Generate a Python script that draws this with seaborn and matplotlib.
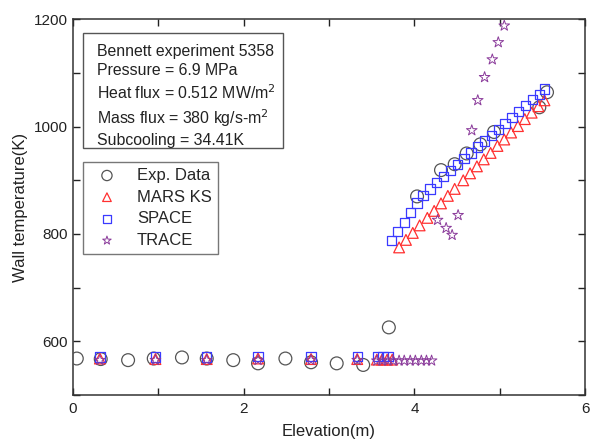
import numpy as np
import pandas as pd
import seaborn as sns
import matplotlib
matplotlib.use('Agg')
import matplotlib.pyplot as plt
from matplotlib.patches import Rectangle
from matplotlib.ticker import MultipleLocator

sns.set_style('ticks')
plt.rcParams['font.family'] = ['Liberation Sans', 'DejaVu Sans']

# Exp. data (elevation m, wall temperature K)
exp_x = [0.05, 0.33, 0.65, 0.95, 1.28, 1.57, 1.88, 2.17, 2.49, 2.79, 3.09, 3.40, 3.70,
         4.03, 4.31, 4.47, 4.61, 4.77, 4.93, 5.46, 5.55]
exp_y = [568, 567, 565, 568, 570, 568, 565, 559, 568, 561, 559, 556, 626,
         870, 919, 930, 950, 967, 990, 1036, 1064]

# MARS KS
mars_x = [0.32, 0.97, 1.57, 2.17, 2.79, 3.33, 3.56, 3.62, 3.68, 3.74,
          3.82, 3.90, 3.98, 4.06, 4.15, 4.23, 4.31, 4.39, 4.47, 4.57, 4.65,
          4.73, 4.81, 4.89, 4.97, 5.05, 5.13, 5.21, 5.29, 5.37, 5.45, 5.52]
mars_y = [568, 567, 567, 568, 567, 567, 566, 566, 566, 566,
          775, 789, 802, 816, 830, 843, 857, 871, 884, 900, 913,
          926, 939, 951, 964, 976, 989, 1001, 1014, 1026, 1038, 1049]

# SPACE
space_x = [0.32, 0.97, 1.57, 2.17, 2.79, 3.33, 3.57, 3.63, 3.69,
           3.73, 3.80, 3.88, 3.95, 4.03, 4.10, 4.18, 4.26, 4.34, 4.42, 4.50,
           4.58, 4.66, 4.74, 4.82, 4.90, 4.98, 5.06, 5.14, 5.22, 5.30, 5.38,
           5.46, 5.52]
space_y = [571, 571, 571, 572, 572, 572, 572, 572, 572,
           788, 805, 822, 840, 858, 872, 884, 896, 907, 918, 929,
           940, 951, 962, 973, 984, 995, 1006, 1017, 1028, 1039, 1050,
           1060, 1070]

# TRACE
trace_x = [0.32, 0.97, 1.57, 2.17, 2.79, 3.33, 3.56, 3.62, 3.69, 3.75, 3.82,
           3.88, 3.95, 4.01, 4.08, 4.14, 4.20, 4.27, 4.37, 4.44, 4.51,
           4.67, 4.74, 4.82, 4.91, 4.98, 5.05]
trace_y = [565, 565, 565, 565, 565, 565, 564, 564, 564, 564, 564,
           564, 564, 564, 564, 564, 564, 826, 811, 798, 835,
           993, 1049, 1092, 1125, 1157, 1188]

fig = plt.figure(figsize=(5.92, 4.46), dpi=100)
ax = fig.add_axes([0.1225, 0.1143, 0.8665, 0.8425])

sns.scatterplot(x=exp_x, y=exp_y, marker='o', s=85, facecolor='none',
                edgecolor='#555555', linewidth=0.9, label='Exp. Data', ax=ax, zorder=3)
sns.scatterplot(x=mars_x, y=mars_y, marker='^', s=60, facecolor='none',
                edgecolor='#ff3030', linewidth=0.9, label='MARS KS', ax=ax, zorder=3)
sns.scatterplot(x=space_x, y=space_y, marker='s', s=45, facecolor='none',
                edgecolor='#3a3aff', linewidth=0.9, label='SPACE', ax=ax, zorder=3)
sns.scatterplot(x=trace_x, y=trace_y, marker='*', s=65, facecolor='none',
                edgecolor='#8a3a9a', linewidth=0.7, label='TRACE', ax=ax, zorder=3)

ax.set_xlim(0, 6)
ax.set_ylim(500, 1200)
ax.xaxis.set_major_locator(MultipleLocator(2))
ax.xaxis.set_minor_locator(MultipleLocator(1))
ax.yaxis.set_major_locator(MultipleLocator(200))
ax.yaxis.set_minor_locator(MultipleLocator(100))
ax.tick_params(which='both', direction='in', top=True, right=True, length=5,
               width=1, labelsize=11, colors='#222222')
ax.tick_params(axis='x', pad=5)
for sp in ax.spines.values():
    sp.set_linewidth(1.1)
    sp.set_color('#333333')

ax.set_xlabel('Elevation(m)', fontsize=12, color='#222222', labelpad=6)
ax.set_ylabel('Wall temperature(K)', fontsize=12, color='#222222', labelpad=4)

# legend box below the info box
leg = ax.legend(loc='upper left', bbox_to_anchor=(0.02, 0.62), borderaxespad=0,
                fancybox=False, edgecolor='#555555', fontsize=12, handletextpad=0.7,
                labelspacing=0.4, borderpad=0.35, handlelength=2.2, markerscale=0.8)
leg.get_frame().set_linewidth(1.0)

# info box: frame drawn on its own so the padding can match
ax.add_patch(Rectangle((0.0205, 0.657), 0.3895, 0.306, transform=ax.transAxes,
                       facecolor='white', edgecolor='#555555', linewidth=1.0, zorder=4))
info = ('Bennett experiment 5358\n'
        'Pressure = 6.9 MPa\n'
        'Heat flux = 0.512 MW/m$^2$\n'
        'Mass flux = 380 kg/s-m$^2$\n'
        'Subcooling = 34.41K')
ax.text(0.047, 0.934, info, transform=ax.transAxes, fontsize=11.4, va='top', ha='left',
        linespacing=1.33, color='#222222', zorder=5)

fig.savefig('out.png', dpi=100)
